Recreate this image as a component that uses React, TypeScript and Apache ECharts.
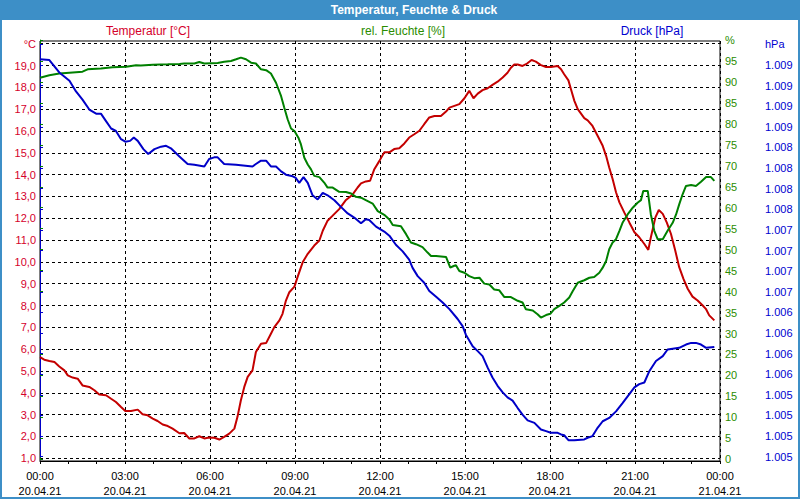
import React, { useEffect, useRef } from "react";
import * as echarts from "echarts";

const tickTimes = ["00:00", "03:00", "06:00", "09:00", "12:00", "15:00", "18:00", "21:00", "00:00"];
const tickDates = ["20.04.21", "20.04.21", "20.04.21", "20.04.21", "20.04.21", "20.04.21", "20.04.21", "20.04.21", "21.04.21"];

const tempHours = [0, 0.15, 0.33, 0.51, 0.68, 0.86, 0.98, 1.15, 1.33, 1.5, 1.74, 1.92, 2.09, 2.33, 2.51, 2.68, 2.86, 3.01, 3.21, 3.45, 3.62, 3.8, 3.98, 4.15, 4.33, 4.51, 4.68, 4.92, 5.09, 5.27, 5.45, 5.62, 5.8, 5.97, 6.15, 6.33, 6.5, 6.68, 6.86, 6.97, 7.09, 7.21, 7.33, 7.5, 7.62, 7.8, 7.98, 8.15, 8.27, 8.45, 8.56, 8.68, 8.8, 8.98, 9.09, 9.27, 9.45, 9.68, 9.86, 9.98, 10.15, 10.33, 10.56, 10.8, 11.03, 11.21, 11.33, 11.5, 11.65, 11.8, 11.98, 12.15, 12.33, 12.5, 12.68, 12.86, 13.03, 13.21, 13.39, 13.56, 13.74, 13.92, 14.15, 14.33, 14.45, 14.8, 14.98, 15.15, 15.3, 15.45, 15.62, 15.8, 15.97, 16.15, 16.33, 16.5, 16.62, 16.74, 16.86, 17.03, 17.19, 17.35, 17.5, 17.68, 17.86, 18.03, 18.27, 18.39, 18.5, 18.65, 18.74, 18.86, 18.98, 19.21, 19.33, 19.5, 19.68, 19.86, 19.98, 20.09, 20.21, 20.33, 20.45, 20.62, 20.8, 20.98, 21.15, 21.33, 21.47, 21.56, 21.72, 21.84, 21.98, 22.12, 22.27, 22.42, 22.56, 22.71, 22.86, 23.03, 23.21, 23.39, 23.5, 23.62, 23.8];
const tempValues = [5.64, 5.52, 5.46, 5.41, 5.21, 5.03, 4.8, 4.7, 4.65, 4.34, 4.27, 4.12, 3.92, 3.89, 3.73, 3.58, 3.35, 3.17, 3.17, 3.23, 3.02, 2.97, 2.82, 2.71, 2.55, 2.48, 2.36, 2.15, 2.16, 1.91, 1.91, 2.01, 1.91, 1.95, 1.94, 1.86, 1.98, 2.13, 2.36, 2.9, 3.66, 4.27, 4.73, 5.03, 5.87, 6.25, 6.28, 6.71, 7.01, 7.32, 7.62, 8.23, 8.61, 8.87, 9.3, 9.98, 10.37, 10.75, 10.98, 11.43, 11.89, 12.12, 12.42, 12.84, 13.08, 13.41, 13.6, 13.69, 13.72, 14.25, 14.63, 15.02, 15.02, 15.17, 15.21, 15.43, 15.7, 15.85, 16.01, 16.31, 16.62, 16.69, 16.69, 16.89, 17.07, 17.23, 17.5, 17.84, 17.5, 17.71, 17.87, 17.96, 18.11, 18.26, 18.45, 18.67, 18.9, 19.05, 19.05, 18.98, 19.09, 19.25, 19.18, 19.02, 18.93, 18.93, 18.98, 18.83, 18.6, 18.32, 17.91, 17.38, 17.0, 16.59, 16.49, 16.23, 15.78, 15.32, 14.86, 14.33, 13.8, 13.19, 12.73, 12.27, 11.81, 11.36, 11.13, 10.82, 10.55, 11.13, 12.04, 12.38, 12.2, 11.81, 11.28, 10.52, 9.76, 9.22, 8.77, 8.41, 8.23, 8.0, 7.85, 7.55, 7.32];

const humHours = [0, 0.33, 0.68, 1.04, 1.5, 1.68, 2.15, 2.56, 3.04, 3.39, 3.56, 3.98, 4.51, 4.92, 5.09, 5.45, 5.62, 5.8, 6.27, 6.5, 6.74, 6.92, 7.09, 7.27, 7.45, 7.62, 7.8, 7.98, 8.15, 8.33, 8.51, 8.62, 8.74, 8.86, 8.98, 9.12, 9.21, 9.33, 9.45, 9.56, 9.68, 9.86, 10.03, 10.15, 10.33, 10.56, 10.8, 10.98, 11.15, 11.33, 11.5, 11.74, 11.92, 12.15, 12.33, 12.45, 12.74, 12.92, 13.09, 13.27, 13.5, 13.68, 13.8, 13.98, 14.33, 14.48, 14.6, 14.68, 14.8, 14.98, 15.15, 15.33, 15.51, 15.68, 15.86, 16.03, 16.21, 16.39, 16.62, 16.86, 17.03, 17.15, 17.39, 17.56, 17.68, 17.86, 18.01, 18.15, 18.33, 18.5, 18.68, 18.8, 18.98, 19.21, 19.39, 19.56, 19.74, 19.86, 19.98, 20.09, 20.21, 20.33, 20.45, 20.56, 20.74, 20.92, 21.09, 21.21, 21.29, 21.45, 21.56, 21.68, 21.8, 21.98, 22.15, 22.33, 22.45, 22.56, 22.68, 22.8, 22.98, 23.15, 23.33, 23.51, 23.68, 23.8];
const humValues = [91.0, 91.6, 92.0, 92.2, 92.45, 93.0, 93.2, 93.5, 93.6, 94.0, 93.9, 94.1, 94.2, 94.3, 94.4, 94.4, 94.75, 94.4, 94.5, 94.8, 95.0, 95.4, 95.8, 95.4, 94.6, 94.4, 93.0, 92.8, 92.0, 89.8, 86.6, 83.9, 81.1, 78.9, 78.3, 76.7, 75.1, 71.9, 70.3, 69.2, 67.6, 67.3, 66.0, 64.8, 64.8, 63.8, 63.75, 63.4, 62.6, 62.4, 61.8, 61.0, 59.2, 58.3, 57.2, 55.9, 55.6, 53.7, 51.7, 51.3, 50.6, 49.3, 48.5, 48.5, 48.25, 45.7, 46.1, 46.3, 44.9, 44.5, 43.7, 43.2, 43.3, 41.9, 41.7, 40.5, 40.3, 38.7, 38.7, 37.8, 37.4, 35.8, 35.5, 34.6, 33.8, 34.4, 34.7, 35.8, 36.6, 37.4, 38.6, 40.1, 42.1, 42.7, 43.3, 43.5, 44.5, 45.7, 47.3, 50.1, 51.7, 52.5, 54.5, 56.4, 58.4, 60.0, 61.2, 61.8, 64.0, 64.0, 58.4, 54.5, 52.5, 52.5, 54.5, 56.4, 58.4, 60.8, 63.2, 65.2, 65.4, 65.2, 66.2, 67.3, 67.3, 66.4];

const pressHours = [0, 0.33, 0.68, 1.04, 1.27, 1.5, 1.74, 1.98, 2.15, 2.33, 2.51, 2.68, 2.86, 3.01, 3.18, 3.31, 3.45, 3.65, 3.82, 4.04, 4.27, 4.45, 4.62, 4.92, 5.21, 5.45, 5.8, 5.97, 6.15, 6.27, 6.5, 6.92, 7.5, 7.62, 7.8, 7.98, 8.15, 8.33, 8.51, 8.68, 8.92, 9.03, 9.15, 9.3, 9.45, 9.62, 9.8, 9.98, 10.15, 10.39, 10.62, 10.86, 11.09, 11.33, 11.5, 11.62, 11.86, 12.15, 12.33, 12.56, 12.8, 13.03, 13.15, 13.33, 13.56, 13.74, 13.98, 14.21, 14.45, 14.74, 14.92, 15.03, 15.27, 15.45, 15.62, 15.8, 15.97, 16.15, 16.33, 16.5, 16.68, 16.86, 17.03, 17.21, 17.45, 17.68, 17.86, 18.03, 18.27, 18.39, 18.5, 18.65, 18.86, 19.21, 19.33, 19.5, 19.68, 19.86, 20.09, 20.33, 20.56, 20.8, 20.98, 21.15, 21.33, 21.51, 21.74, 21.98, 22.15, 22.33, 22.56, 22.8, 22.98, 23.15, 23.33, 23.51, 23.8];
const pressValues = [1009.32, 1009.31, 1009.16, 1009.06, 1008.93, 1008.83, 1008.71, 1008.66, 1008.66, 1008.57, 1008.48, 1008.45, 1008.35, 1008.32, 1008.33, 1008.37, 1008.33, 1008.23, 1008.17, 1008.23, 1008.26, 1008.27, 1008.24, 1008.14, 1008.05, 1008.04, 1008.02, 1008.11, 1008.13, 1008.13, 1008.05, 1008.04, 1008.02, 1008.05, 1008.09, 1008.09, 1008.02, 1008.02, 1007.96, 1007.92, 1007.9, 1007.88, 1007.82, 1007.89, 1007.82, 1007.67, 1007.62, 1007.7, 1007.67, 1007.61, 1007.53, 1007.45, 1007.4, 1007.33, 1007.38, 1007.37, 1007.29, 1007.23, 1007.18, 1007.07, 1006.99, 1006.89, 1006.79, 1006.69, 1006.61, 1006.51, 1006.44, 1006.37, 1006.29, 1006.17, 1006.08, 1005.98, 1005.84, 1005.78, 1005.72, 1005.58, 1005.46, 1005.36, 1005.28, 1005.22, 1005.18, 1005.09, 1005.01, 1004.94, 1004.91, 1004.83, 1004.81, 1004.79, 1004.79, 1004.77, 1004.76, 1004.7, 1004.7, 1004.71, 1004.73, 1004.75, 1004.85, 1004.93, 1004.97, 1005.05, 1005.15, 1005.26, 1005.34, 1005.38, 1005.4, 1005.54, 1005.66, 1005.72, 1005.8, 1005.81, 1005.82, 1005.86, 1005.88, 1005.88, 1005.86, 1005.82, 1005.83];

const RED_LINE = "#c40000";
const RED_TEXT = "#d5002b";
const GREEN_LINE = "#008000";
const GREEN_TEXT = "#2a8c00";
const BLUE_LINE = "#0000c8";
const BLUE_TEXT = "#0000d0";
const FONT = "'Liberation Sans', Arial, sans-serif";

const pair = (xs: number[], ys: number[]) => xs.map((x, i) => [x, ys[i]]);

export default function App() {
  const ref = useRef<HTMLDivElement>(null);
  useEffect(() => {
    if (!ref.current) return;
    const chart = echarts.init(ref.current, undefined, { renderer: "svg" });
    const L = 40, R = 80;
    const dashed = { show: true, lineStyle: { color: "#000", type: [3, 3] as any, width: 1 } };
    const hiddenX = (g: number) => ({ type: "value", gridIndex: g, min: 0, max: 24, show: false });
    chart.setOption({
      animation: false,
      backgroundColor: "#fff",
      textStyle: { fontFamily: FONT },
      grid: [
        { left: L, right: R, top: 41, bottom: 39, show: true, borderColor: "#000", borderWidth: 1, backgroundColor: "transparent" },
        { left: L, right: R, top: 43.7, bottom: 41.7 },
        { left: L, right: R, top: 40, bottom: 40.7 },
        { left: L, right: R, top: 44.4, bottom: 43.3 },
      ],
      xAxis: [
        {
          type: "value", gridIndex: 0, min: 0, max: 24, interval: 3,
          axisLine: { show: true, lineStyle: { color: "#000", width: 1 } },
          axisTick: { show: true, length: 3, lineStyle: { color: "#000" } },
          minorTick: { show: true, splitNumber: 3, length: 3, lineStyle: { color: "#000" } },
          splitLine: dashed,
          axisLabel: {
            color: "#000", fontSize: 11, fontFamily: FONT, lineHeight: 15, margin: 7,
            formatter: (v: number) => { const i = Math.round(v / 3); return tickTimes[i] + "\n" + tickDates[i]; },
          },
        },
        hiddenX(1), hiddenX(2), hiddenX(3),
      ],
      yAxis: [
        { type: "value", gridIndex: 0, min: 0, max: 1, show: false },
        {
          type: "value", gridIndex: 1, min: 1, max: 20, interval: 1, position: "left",
          axisLine: { show: false }, axisTick: { show: false },
          splitLine: dashed,
          axisLabel: {
            color: RED_TEXT, fontSize: 11, fontFamily: FONT, margin: 4, showMaxLabel: true, showMinLabel: true,
            formatter: (v: number) => (v === 20 ? "°C" : v.toFixed(1).replace(".", ",")),
          },
        },
        {
          type: "value", gridIndex: 2, min: 0, max: 100, interval: 5, position: "right",
          axisLine: { show: true, lineStyle: { color: GREEN_LINE, width: 1 } },
          axisTick: { show: true, length: 3, lineStyle: { color: GREEN_LINE } },
          splitLine: { show: false },
          axisLabel: {
            color: GREEN_TEXT, fontSize: 11, fontFamily: FONT, margin: 5, showMaxLabel: true, showMinLabel: true,
            formatter: (v: number) => (v === 100 ? "%" : String(v)),
          },
        },
        {
          type: "value", gridIndex: 3, min: 1004.5, max: 1009.5, interval: 0.25, position: "right", offset: 40,
          axisLine: { show: true, lineStyle: { color: BLUE_LINE, width: 1 } },
          axisTick: { show: true, length: 3, lineStyle: { color: BLUE_LINE } },
          splitLine: { show: false },
          axisLabel: {
            color: BLUE_TEXT, fontSize: 11, fontFamily: FONT, margin: 5, showMaxLabel: true, showMinLabel: true,
            formatter: (v: number) => {
              if (Math.abs(v - 1009.5) < 1e-6) return "hPa";
              const r = Math.round(v);
              return Math.floor(r / 1000) + "." + String(r % 1000).padStart(3, "0");
            },
          },
        },
      ],
      series: [
        { name: "Temperatur [°C]", type: "line", xAxisIndex: 1, yAxisIndex: 1, data: pair(tempHours, tempValues), showSymbol: false, symbol: "none", lineStyle: { color: RED_LINE, width: 2 }, z: 5 },
        { name: "rel. Feuchte [%]", type: "line", xAxisIndex: 2, yAxisIndex: 2, data: pair(humHours, humValues), showSymbol: false, symbol: "none", lineStyle: { color: GREEN_LINE, width: 2 }, z: 5 },
        { name: "Druck [hPa]", type: "line", xAxisIndex: 3, yAxisIndex: 3, data: pair(pressHours, pressValues), showSymbol: false, symbol: "none", lineStyle: { color: BLUE_LINE, width: 2 }, z: 5 },
      ],
      graphic: [
        { type: "rect", shape: { x: 0, y: 0, width: 800, height: 20 }, style: { fill: "#3d8fc7" }, z: 10 },
        { type: "rect", shape: { x: 1, y: 0, width: 798, height: 498 }, style: { fill: "none", stroke: "#3d8fc7", lineWidth: 2 }, z: 10 },
        { type: "text", x: 414, y: 10, style: { text: "Temperatur, Feuchte & Druck", fill: "#fff", font: `bold 12px ${FONT}`, align: "center", verticalAlign: "middle" }, z: 11 },
        { type: "text", x: 148, y: 31, style: { text: "Temperatur [°C]", fill: RED_TEXT, font: `12px ${FONT}`, align: "center", verticalAlign: "middle" }, z: 11 },
        { type: "text", x: 403, y: 31, style: { text: "rel. Feuchte [%]", fill: GREEN_TEXT, font: `12px ${FONT}`, align: "center", verticalAlign: "middle" }, z: 11 },
        { type: "text", x: 652, y: 31, style: { text: "Druck [hPa]", fill: BLUE_TEXT, font: `12px ${FONT}`, align: "center", verticalAlign: "middle" }, z: 11 },
      ],
    });
    return () => chart.dispose();
  }, []);
  return <div ref={ref} style={{ position: "absolute", left: 0, top: 0, width: 800, height: 500 }} />;
}
